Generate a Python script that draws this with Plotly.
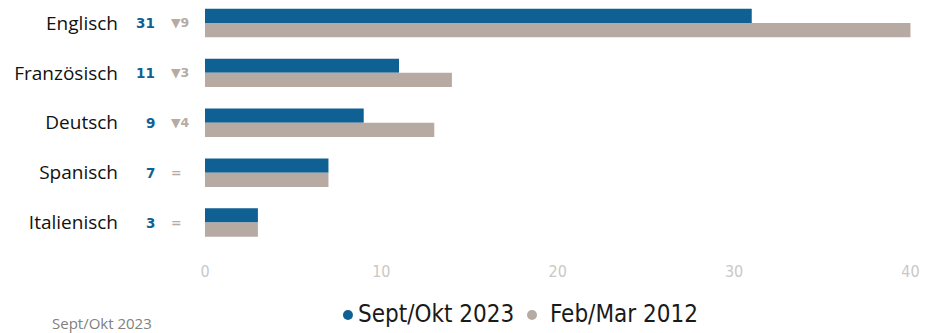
import plotly.graph_objects as go

# Languages and shares (%) for the two survey waves
languages = ["Englisch", "Französisch", "Deutsch", "Spanisch", "Italienisch"]
wave_2023 = [31, 11, 9, 7, 3]
wave_2012 = [40, 14, 13, 7, 3]
change_labels = ["▼9", "▼3", "▼4", "=", "="]
series_names = ["Sept/Okt 2023", "Feb/Mar 2012"]

BLUE = "#0f6193"
TAUPE = "#b6aaa3"
COND = "DejaVu Sans Condensed"
positions = list(range(len(languages)))

fig = go.Figure()
for name, vals, col in zip(series_names, [wave_2023, wave_2012], [BLUE, TAUPE]):
    fig.add_trace(go.Bar(
        name=name, x=vals, y=positions, orientation="h",
        marker=dict(color=col, line=dict(width=0)), hoverinfo="x+name",
        showlegend=False,
    ))

# Current value and change since 2012 beside each category label
for pos, val, chg in zip(positions, wave_2023, change_labels):
    fig.add_annotation(
        xref="paper", yref="y", x=-0.068, y=pos, text=f"<b>{val}</b>",
        xanchor="right", showarrow=False,
        font=dict(family="DejaVu Sans", size=13.5, color=BLUE),
    )
    fig.add_annotation(
        xref="paper", yref="y", x=-0.051, y=pos, text=f"<b>{chg}</b>",
        xanchor="left", showarrow=False,
        font=dict(family="DejaVu Sans", size=12.5, color=TAUPE),
    )

# Compact legend below the axis: round key + label for each series
key_x = [0.1946, 0.4542]
label_x = [0.213, 0.4838]
for name, col, kx, lx in zip(series_names, [BLUE, TAUPE], key_x, label_x):
    fig.add_shape(
        type="circle", xref="paper", yref="paper",
        x0=kx, x1=kx + 0.0141, y0=-0.28, y1=-0.24,
        fillcolor=col, line=dict(width=0),
    )
    fig.add_annotation(
        xref="paper", yref="paper", x=lx, y=-0.254, text=name,
        xanchor="left", yanchor="middle", showarrow=False,
        font=dict(family=COND, size=24, color="#1a1a1a"),
    )

fig.add_annotation(
    xref="paper", yref="paper", x=-0.219, y=-0.292, text="Sept/Okt 2023",
    xanchor="left", yanchor="middle", showarrow=False,
    font=dict(family="Open Sans", size=15, color="#7f7f7f"),
)

fig.update_layout(
    width=928, height=333,
    margin=dict(l=205, r=14, t=0, b=83),
    paper_bgcolor="white", plot_bgcolor="white",
    barmode="group", bargap=0.43, bargroupgap=0,
    showlegend=False,
    xaxis=dict(
        range=[0, 40.2], tickvals=[0, 10, 20, 30, 40],
        showgrid=False, zeroline=False, showline=False,
        tickfont=dict(family=COND, size=16, color="#c8c8c8"),
        ticks="", ticklabelstandoff=10,
    ),
    yaxis=dict(
        range=[4.55, -0.46], tickvals=positions, ticktext=languages,
        showgrid=False, zeroline=False, showline=False,
        tickfont=dict(family="Open Sans", size=19, color="#111111"),
        ticks="", ticklabelstandoff=86,
    ),
)

fig.write_html("out.html")
